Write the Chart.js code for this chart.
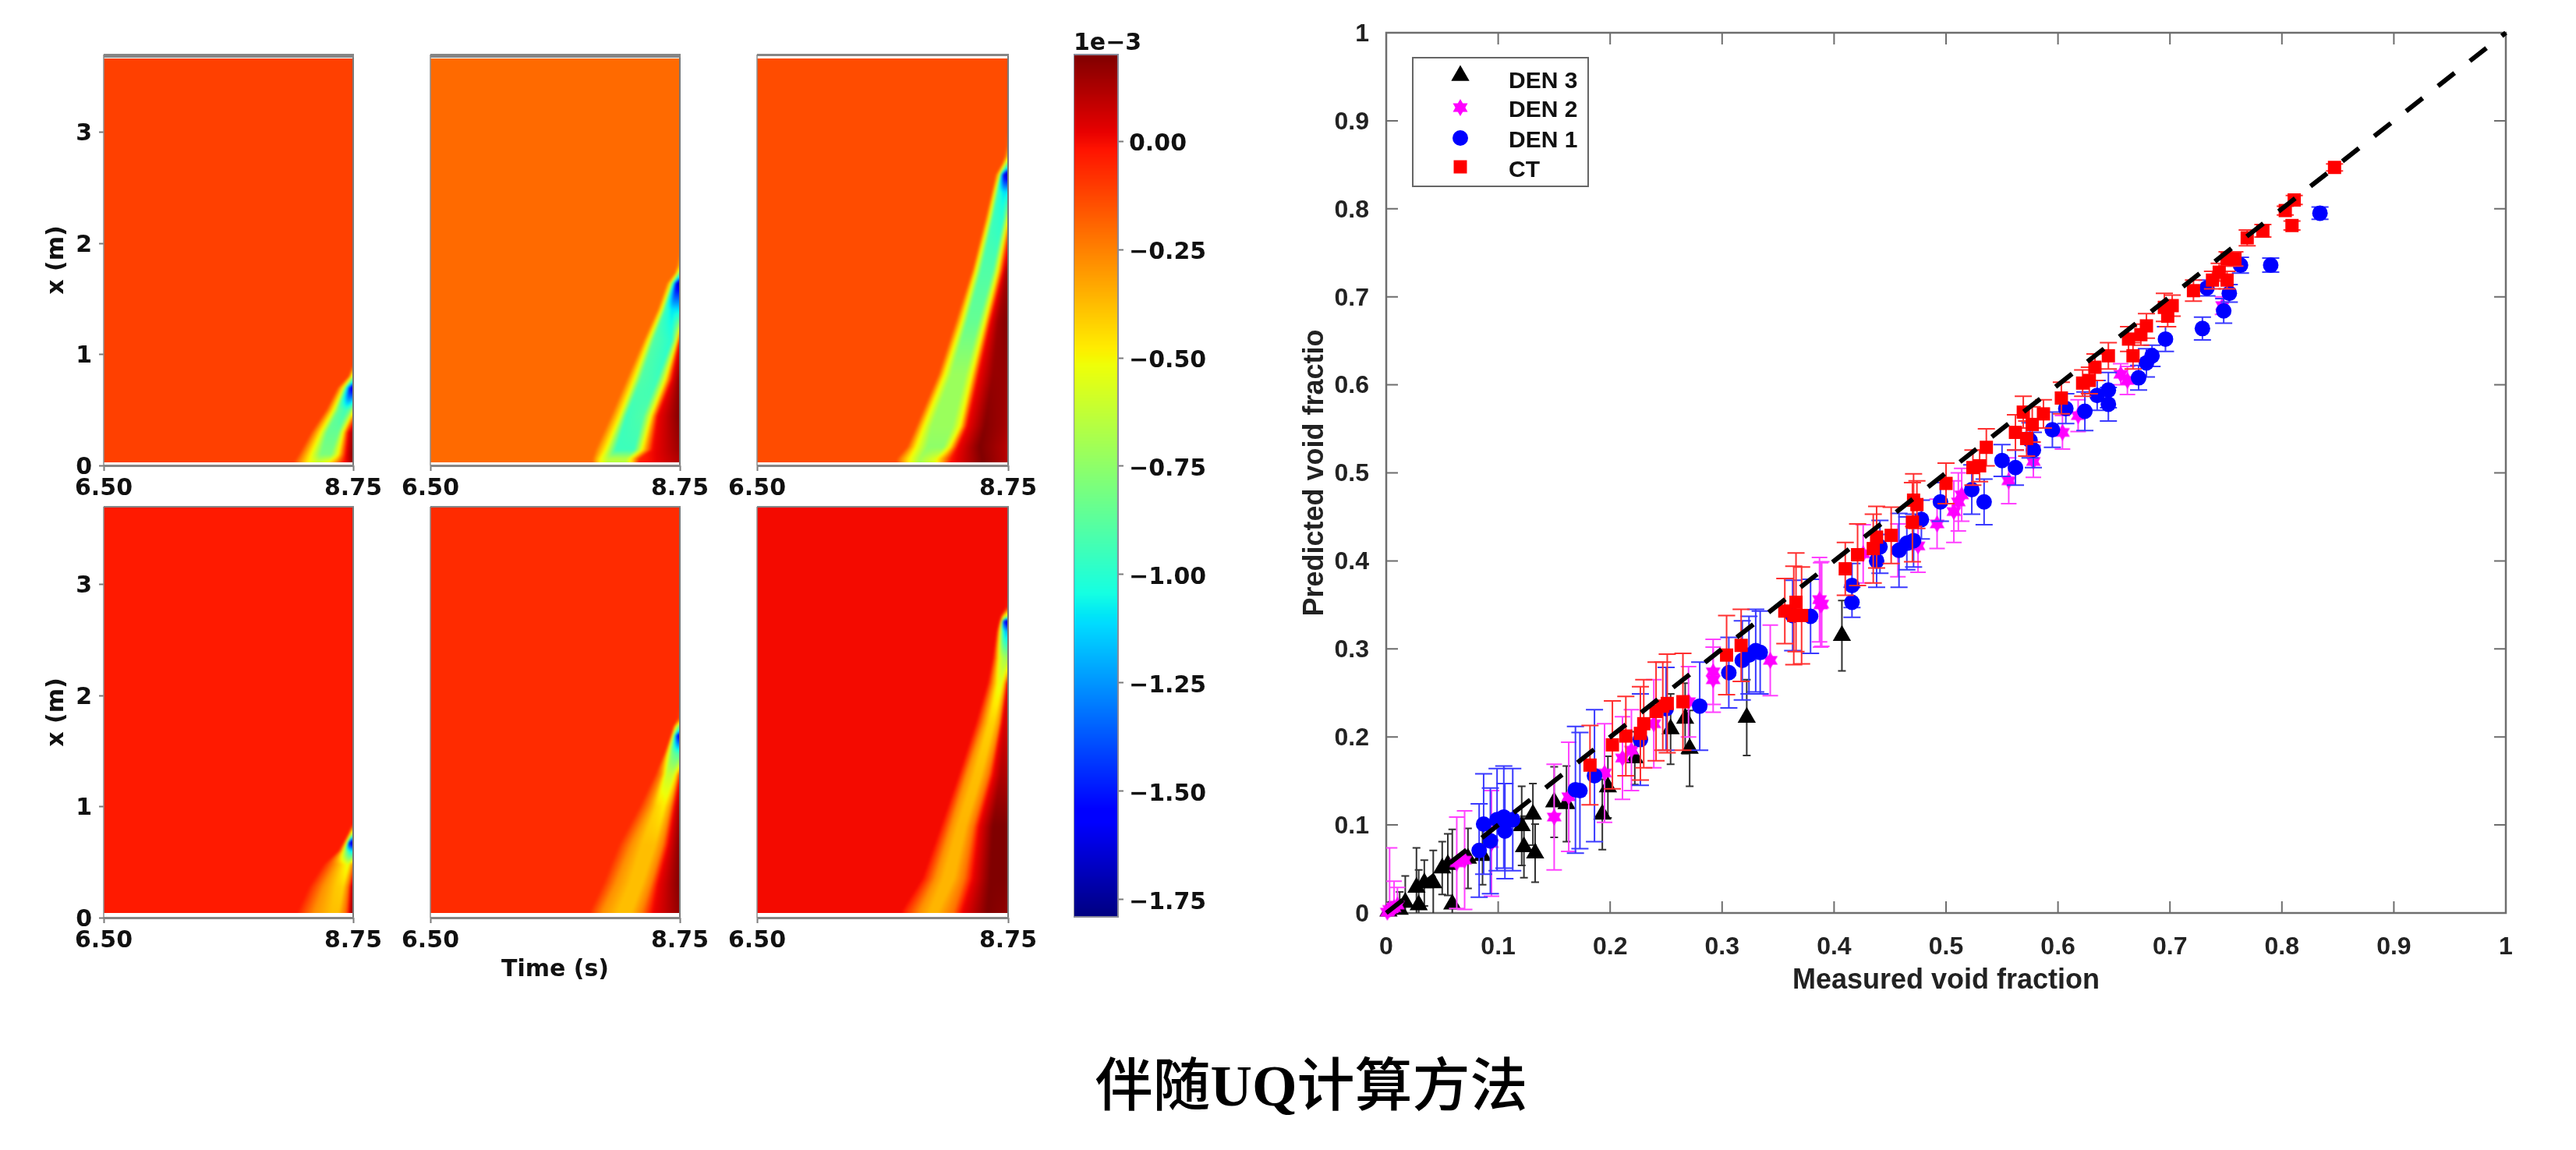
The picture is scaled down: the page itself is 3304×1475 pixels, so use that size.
<!DOCTYPE html>
<html>
<head>
<meta charset="utf-8">
<title>伴随UQ计算方法</title>
<script src="https://cdn.jsdelivr.net/npm/chart.js@4/dist/chart.umd.js"></script>
<style>
  html, body { margin: 0; padding: 0; background: #fff; overflow: hidden; }
  #page { position: relative; width: 3304px; height: 1475px; background: #fff; }
  #page canvas { position: absolute; }
  #caption { position: absolute; left: 1282px; width: 800px; top: 1340px; text-align: center; font-size: 74px; line-height: 92px; color: #000;
             font-family: "Noto Sans CJK SC"; font-weight: 500; white-space: nowrap; }
  #caption b { font-family: "Liberation Serif"; font-weight: bold; }
</style>
</head>
<body>
<div id="page"><div id="caption">伴随<b>UQ</b>计算方法</div></div>
<script>
// heat panels: for each height (m) a row of times (s) and values (1e-3) read along that height
const timeTicks = [6.5, 8.75];
const heightTicks = [0, 1, 2, 3];
const barTicks = [0, -0.25, -0.5, -0.75, -1, -1.25, -1.5, -1.75];
const scatterTicks = [0, 0.1, 0.2, 0.3, 0.4, 0.5, 0.6, 0.7, 0.8, 0.9, 1];

const p1Rows = [0.03, 0.1, 0.3, 0.5, 0.7, 0.8, 0.9, 1.0];
const p1Times = [
  [8.212, 8.347, 8.436, 8.526, 8.593, 8.66, 8.741],
  [8.257, 8.369, 8.459, 8.548, 8.616, 8.683, 8.75],
  [8.369, 8.459, 8.517, 8.616, 8.66, 8.705, 8.75],
  [8.504, 8.571, 8.616, 8.683, 8.719, 8.759, 8.795],
  [8.607, 8.66, 8.696, 8.728, 8.759, 8.795, 8.84],
  [8.705, 8.732, 8.759, 8.8, 8.85, 8.9, 8.95],
  [8.74, 8.76, 8.8, 8.82, 8.85, 8.9, 8.95],
  [8.74, 8.76, 8.8, 8.82, 8.85, 8.9, 8.95]
];
const p1Vals = [
  [-0.113, -0.5, -0.6, -0.5, -0.3, -0.05, 0.15],
  [-0.113, -0.5, -0.8, -0.8, -0.5, 0, 0.2],
  [-0.113, -0.5, -0.85, -0.85, -0.5, 0, 0.15],
  [-0.113, -0.5, -0.85, -0.95, -0.85, -0.5, 0],
  [-0.113, -0.5, -1.1, -1.6, -1.65, -1.6, -1.6],
  [-0.113, -0.5, -0.8, -0.8, -0.8, -0.8, -0.8],
  [-0.113, -0.25, -0.3, -0.3, -0.3, -0.3, -0.3],
  [-0.113, -0.113, -0.113, -0.113, -0.113, -0.113, -0.113]
];

const p2Rows = [0.06, 0.14, 0.446, 0.775, 1.125, 1.405, 1.64, 1.73, 1.8, 1.9, 2.0];
const p2Times = [
  [7.962, 8.033, 8.103, 8.267, 8.326, 8.384, 8.75],
  [7.986, 8.08, 8.173, 8.337, 8.408, 8.502, 8.75],
  [8.126, 8.209, 8.267, 8.42, 8.49, 8.548, 8.75],
  [8.267, 8.337, 8.396, 8.548, 8.619, 8.677, 8.75],
  [8.42, 8.466, 8.513, 8.677, 8.724, 8.748, 8.771],
  [8.548, 8.584, 8.619, 8.677, 8.748, 8.783, 8.806],
  [8.63, 8.666, 8.696, 8.724, 8.759, 8.783, 8.806],
  [8.701, 8.724, 8.748, 8.783, 8.8, 8.85, 8.9],
  [8.724, 8.755, 8.78, 8.8, 8.85, 8.9, 8.95],
  [8.74, 8.76, 8.78, 8.8, 8.85, 8.9, 8.95],
  [8.74, 8.76, 8.78, 8.8, 8.85, 8.9, 8.95]
];
const p2Vals = [
  [-0.202, -0.5, -0.65, -0.65, -0.4, -0.05, 0.12],
  [-0.202, -0.5, -0.95, -0.95, -0.5, 0, 0.15],
  [-0.202, -0.5, -0.95, -0.9, -0.5, 0, 0.2],
  [-0.202, -0.5, -0.9, -0.95, -0.5, 0, 0.2],
  [-0.202, -0.5, -0.9, -1.0, -0.5, 0, 0.1],
  [-0.202, -0.5, -0.95, -1.1, -1.1, -0.6, -0.6],
  [-0.202, -0.5, -1.1, -1.65, -1.7, -1.7, -1.7],
  [-0.202, -0.5, -0.9, -1, -1, -1, -1],
  [-0.202, -0.45, -0.5, -0.5, -0.5, -0.5, -0.5],
  [-0.202, -0.3, -0.3, -0.3, -0.3, -0.3, -0.3],
  [-0.202, -0.202, -0.202, -0.202, -0.202, -0.202, -0.202]
];

const p3Rows = [0.06, 0.166, 0.353, 0.82, 1.29, 1.755, 2.22, 2.46, 2.62, 2.715, 2.785, 2.88, 3.0];
const p3Times = [
  [7.75, 7.867, 7.96, 8.1, 8.17, 8.24, 8.517, 8.75],
  [7.844, 7.925, 8.03, 8.17, 8.228, 8.298, 8.496, 8.75],
  [7.925, 7.995, 8.065, 8.251, 8.321, 8.38, 8.543, 8.75],
  [8.123, 8.181, 8.24, 8.368, 8.426, 8.484, 8.613, 8.75],
  [8.275, 8.333, 8.38, 8.484, 8.543, 8.589, 8.659, 8.75],
  [8.426, 8.461, 8.508, 8.613, 8.659, 8.706, 8.729, 8.75],
  [8.543, 8.578, 8.613, 8.706, 8.748, 8.776, 8.8, 8.82],
  [8.601, 8.629, 8.659, 8.706, 8.776, 8.8, 8.82, 8.85],
  [8.636, 8.671, 8.689, 8.717, 8.752, 8.776, 8.8, 8.82],
  [8.694, 8.717, 8.748, 8.78, 8.8, 8.82, 8.85, 8.9],
  [8.717, 8.752, 8.78, 8.8, 8.82, 8.85, 8.9, 8.95],
  [8.73, 8.76, 8.78, 8.8, 8.82, 8.85, 8.9, 8.95],
  [8.73, 8.76, 8.78, 8.8, 8.82, 8.85, 8.9, 8.95]
];
const p3Vals = [
  [-0.14, -0.5, -0.7, -0.55, -0.3, -0.02, 0.2, 0.1],
  [-0.14, -0.5, -0.75, -0.75, -0.5, 0, 0.2, 0.1],
  [-0.14, -0.5, -0.72, -0.72, -0.5, 0, 0.19, 0.13],
  [-0.14, -0.5, -0.72, -0.72, -0.5, 0, 0.16, 0.16],
  [-0.14, -0.5, -0.85, -0.85, -0.5, 0, 0.15, 0.2],
  [-0.14, -0.5, -0.9, -0.9, -0.5, 0, 0.1, 0.18],
  [-0.14, -0.5, -0.95, -1.0, -0.5, -0.1, -0.1, -0.1],
  [-0.14, -0.5, -0.95, -1.1, -1.1, -1.1, -1.1, -1.1],
  [-0.14, -0.5, -1.1, -1.65, -1.7, -1.7, -1.7, -1.7],
  [-0.14, -0.5, -0.9, -0.9, -0.9, -0.9, -0.9, -0.9],
  [-0.14, -0.45, -0.45, -0.45, -0.45, -0.45, -0.45, -0.45],
  [-0.14, -0.25, -0.25, -0.25, -0.25, -0.25, -0.25, -0.25],
  [-0.14, -0.14, -0.14, -0.14, -0.14, -0.14, -0.14, -0.14]
];

const p4Rows = [0.03, 0.275, 0.48, 0.6, 0.675, 0.76, 0.85, 0.9];
const p4Times = [
  [8.235, 8.392, 8.548, 8.616, 8.683, 8.719, 8.75],
  [8.347, 8.481, 8.593, 8.66, 8.705, 8.732, 8.759],
  [8.481, 8.593, 8.66, 8.705, 8.741, 8.777, 8.813],
  [8.616, 8.66, 8.696, 8.728, 8.759, 8.795, 8.83],
  [8.66, 8.692, 8.719, 8.75, 8.777, 8.804, 8.83],
  [8.705, 8.728, 8.759, 8.8, 8.85, 8.9, 8.95],
  [8.74, 8.76, 8.78, 8.8, 8.85, 8.9, 8.95],
  [8.74, 8.76, 8.78, 8.8, 8.85, 8.9, 8.95]
];
const p4Vals = [
  [-0.033, -0.28, -0.38, -0.38, -0.2, 0.05, 0.2],
  [-0.033, -0.28, -0.4, -0.42, -0.22, 0.05, 0.2],
  [-0.033, -0.3, -0.45, -0.55, -0.3, 0, 0.1],
  [-0.033, -0.5, -0.9, -1.1, -1.1, -1.1, -1.1],
  [-0.033, -0.6, -1.65, -1.7, -1.7, -1.7, -1.7],
  [-0.033, -0.5, -0.7, -0.7, -0.7, -0.7, -0.7],
  [-0.033, -0.1, -0.1, -0.1, -0.1, -0.1, -0.1],
  [-0.033, -0.033, -0.033, -0.033, -0.033, -0.033, -0.033]
];

const p5Rows = [0.06, 0.306, 0.657, 1.0, 1.29, 1.476, 1.64, 1.72, 1.8, 1.9];
const p5Times = [
  [7.939, 8.056, 8.197, 8.314, 8.408, 8.502, 8.75],
  [8.056, 8.173, 8.302, 8.408, 8.49, 8.548, 8.75],
  [8.197, 8.314, 8.408, 8.525, 8.595, 8.642, 8.75],
  [8.384, 8.478, 8.537, 8.607, 8.666, 8.701, 8.75],
  [8.525, 8.584, 8.63, 8.689, 8.724, 8.755, 8.783],
  [8.607, 8.642, 8.677, 8.724, 8.759, 8.783, 8.806],
  [8.666, 8.684, 8.708, 8.731, 8.759, 8.783, 8.806],
  [8.689, 8.712, 8.748, 8.78, 8.8, 8.85, 8.9],
  [8.73, 8.76, 8.78, 8.8, 8.85, 8.9, 8.95],
  [8.73, 8.76, 8.78, 8.8, 8.85, 8.9, 8.95]
];
const p5Vals = [
  [-0.069, -0.28, -0.38, -0.38, -0.25, 0, 0.17],
  [-0.069, -0.28, -0.38, -0.38, -0.25, 0, 0.2],
  [-0.069, -0.28, -0.38, -0.38, -0.25, 0, 0.2],
  [-0.069, -0.28, -0.42, -0.48, -0.28, 0, 0.15],
  [-0.069, -0.28, -0.62, -0.62, -0.4, 0, 0.1],
  [-0.069, -0.5, -0.8, -0.9, -0.9, -0.9, -0.9],
  [-0.069, -0.5, -1.1, -1.6, -1.65, -1.65, -1.65],
  [-0.069, -0.5, -0.9, -0.9, -0.9, -0.9, -0.9],
  [-0.069, -0.2, -0.2, -0.2, -0.2, -0.2, -0.2],
  [-0.069, -0.069, -0.069, -0.069, -0.069, -0.069, -0.069]
];

const p6Rows = [0.06, 0.353, 0.82, 1.29, 1.755, 2.11, 2.34, 2.58, 2.67, 2.715, 2.8, 2.9];
const p6Times = [
  [7.797, 7.96, 8.053, 8.123, 8.263, 8.333, 8.566, 8.75],
  [7.983, 8.1, 8.17, 8.263, 8.356, 8.426, 8.589, 8.75],
  [8.147, 8.24, 8.298, 8.368, 8.438, 8.484, 8.613, 8.75],
  [8.31, 8.38, 8.449, 8.508, 8.578, 8.613, 8.682, 8.75],
  [8.461, 8.531, 8.578, 8.624, 8.671, 8.694, 8.717, 8.75],
  [8.566, 8.613, 8.659, 8.694, 8.724, 8.741, 8.764, 8.787],
  [8.613, 8.647, 8.678, 8.717, 8.752, 8.776, 8.8, 8.82],
  [8.647, 8.678, 8.701, 8.729, 8.752, 8.776, 8.8, 8.82],
  [8.671, 8.694, 8.71, 8.741, 8.76, 8.78, 8.8, 8.82],
  [8.682, 8.713, 8.748, 8.78, 8.8, 8.82, 8.85, 8.9],
  [8.73, 8.76, 8.78, 8.8, 8.82, 8.85, 8.9, 8.95],
  [8.73, 8.76, 8.78, 8.8, 8.82, 8.85, 8.9, 8.95]
];
const p6Vals = [
  [0, -0.28, -0.36, -0.36, -0.22, 0, 0.2, 0.17],
  [0, -0.28, -0.36, -0.36, -0.22, 0, 0.2, 0.2],
  [0, -0.28, -0.36, -0.36, -0.22, 0, 0.2, 0.2],
  [0, -0.28, -0.38, -0.38, -0.22, 0, 0.12, 0.12],
  [0, -0.28, -0.42, -0.42, -0.28, 0, 0.05, 0.05],
  [0, -0.28, -0.52, -0.55, -0.3, 0, 0.05, 0.05],
  [0, -0.3, -0.6, -0.7, -0.7, -0.7, -0.7, -0.7],
  [0, -0.5, -0.95, -1.2, -1.2, -1.2, -1.2, -1.2],
  [0, -0.6, -1.5, -1.7, -1.7, -1.7, -1.7, -1.7],
  [0, -0.5, -0.7, -0.7, -0.7, -0.7, -0.7, -0.7],
  [0, -0.1, -0.1, -0.1, -0.1, -0.1, -0.1, -0.1],
  [0, 0, 0, 0, 0, 0, 0, 0]
];

// scatter panel: measured, predicted, error bar half height
const den3X = [.002, .012, .017, .027, .029, .034, .042, .05, .055, .059, .073, .086, .121, .131, .123, .133, .15, .161, .198, .193, .222, .254, .267, .271, .322, .407];
const den3Y = [.002, .004, .012, .029, .009, .034, .034, .051, .055, .01, .062, .065, .099, .112, .075, .068, .126, .124, .143, .112, .176, .209, .221, .187, .222, .315];
const den3E = [.01, .02, .03, .045, .04, .026, .037, .03, .035, .085, .034, .033, .045, .035, .035, .033, .04, .043, .035, .04, .03, .04, .04, .043, .043, .04];

const den2X = [.001, .003, .007, .01, .063, .07, .094, .15, .163, .195, .211, .219, .239, .27, .292, .292, .343, .389, .387, .388, .426, .457, .475, .492, .507, .511, .514, .556, .578, .604, .618, .656, .662, .747];
const den2Y = [.001, .004, .006, .009, .057, .06, .079, .109, .132, .159, .176, .185, .215, .24, .274, .265, .287, .351, .356, .35, .408, .412, .417, .442, .456, .467, .475, .491, .513, .546, .565, .612, .605, .69];
const den2E = [.01, .07, .03, .02, .052, .056, .06, .06, .062, .056, .047, .046, .05, .04, .037, .037, .04, .048, .048, .048, .033, .03, .03, .028, .035, .033, .03, .026, .018, .019, .018, .012, .016, .01];

const den1X = [.083, .087, .093, .099, .105, .106, .113, .169, .173, .186, .227, .25, .28, .306, .318, .324, .33, .334, .363, .379, .416, .416, .438, .441, .458, .465, .471, .478, .495, .523, .534, .55, .562, .575, .578, .595, .607, .624, .635, .645, .645, .672, .679, .684, .696, .729, .733, .748, .753, .763, .79, .834];
const den1Y = [.071, .101, .082, .106, .109, .093, .106, .14, .139, .156, .197, .232, .235, .273, .287, .293, .298, .296, .338, .337, .353, .372, .4, .416, .412, .42, .423, .447, .467, .481, .467, .514, .506, .537, .526, .549, .573, .57, .588, .594, .578, .608, .625, .633, .652, .664, .71, .684, .704, .736, .736, .795];
const den1E = [.053, .057, .06, .058, .058, .054, .058, .072, .066, .075, .052, .047, .05, .04, .045, .044, .047, .047, .04, .042, .017, .025, .03, .03, .042, .03, .03, .022, .022, .028, .026, .018, .02, .02, .02, .02, .017, .022, .017, .02, .019, .014, .016, .012, .014, .013, .009, .014, .01, .009, .008, .007];

const ctX = [.182, .202, .214, .227, .23, .241, .247, .251, .265, .304, .317, .356, .366, .364, .371, .41, .421, .435, .438, .451, .47, .471, .474, .5, .524, .53, .536, .562, .569, .577, .572, .587, .603, .622, .628, .633, .645, .663, .667, .674, .679, .698, .695, .702, .721, .738, .744, .751, .751, .758, .769, .783, .803, .809, .811, .847];
const ctY = [.168, .191, .201, .204, .215, .229, .235, .238, .24, .293, .304, .343, .353, .338, .338, .391, .407, .414, .427, .429, .444, .469, .464, .488, .506, .508, .529, .546, .569, .555, .539, .567, .585, .602, .605, .62, .633, .652, .633, .657, .667, .678, .688, .69, .707, .719, .728, .719, .743, .743, .767, .775, .798, .781, .81, .847];
const ctE = [.045, .05, .045, .053, .05, .056, .05, .056, .055, .045, .041, .037, .056, .056, .055, .03, .035, .039, .035, .032, .045, .03, .027, .023, .02, .018, .021, .02, .018, .02, .02, .016, .018, .015, .015, .015, .015, .014, .015, .012, .014, .012, .016, .012, .012, .01, .01, .01, .008, .008, .009, .007, .005, .005, .005, .004];

const identityX = [0, 1];
const identityY = [0, 1];

// matplotlib style jet, position then red, green, blue pieces
const jetR = [[0, 0], [0.35, 0], [0.66, 1], [0.89, 1], [1, 0.5]];
const jetG = [[0, 0], [0.125, 0], [0.375, 1], [0.64, 1], [0.91, 0], [1, 0]];
const jetB = [[0, 0.5], [0.11, 1], [0.34, 1], [0.65, 0], [1, 0]];
const barMin = -1.79, barMax = 0.2;

const heatFont = { family: "'DejaVu Sans'", weight: 'bold', size: 30 };
const plotFont = { family: "'Liberation Sans'", weight: 'bold', size: 32 };
const axisGrey = '#7a7a7a';

function piece(tbl, f) {
  for (let i = 1; i < tbl.length; i++) {
    if (f <= tbl[i][0]) {
      const a = tbl[i - 1], b = tbl[i];
      return a[1] + (b[1] - a[1]) * (f - a[0]) / (b[0] - a[0]);
    }
  }
  return tbl[tbl.length - 1][1];
}

function jet(v) {
  const f = Math.min(1, Math.max(0, (v - barMin) / (barMax - barMin)));
  return [piece(jetR, f) * 255, piece(jetG, f) * 255, piece(jetB, f) * 255];
}

function newCanvas(left, top, w, h) {
  const c = document.createElement('canvas');
  c.width = w;
  c.height = h;
  c.style.left = left + 'px';
  c.style.top = top + 'px';
  c.style.width = w + 'px';
  c.style.height = h + 'px';
  document.getElementById('page').appendChild(c);
  return c;
}

// value at time t and height x, straight from the rows held by the chart datasets
function heatAt(datasets, t, x) {
  const first = datasets[0].data;
  let r = 0;
  while (r < first.length - 1 && x >= first[r + 1].y) r++;
  let k = 0;
  if (r < first.length - 1 && x > first[r].y) k = (x - first[r].y) / (first[r + 1].y - first[r].y);
  let prevT = null, prevV = null;
  for (let s = 0; s < datasets.length; s++) {
    const a = datasets[s].data[r];
    const b = datasets[s].data[Math.min(r + 1, first.length - 1)];
    const st = a.x + (b.x - a.x) * k;
    const sv = a.v + (b.v - a.v) * k;
    if (t <= st) {
      if (prevT === null) return sv;
      return prevV + (sv - prevV) * (t - prevT) / (st - prevT);
    }
    prevT = st;
    prevV = sv;
  }
  return prevV;
}

const heatPlugin = {
  id: 'heat',
  beforeDatasetsDraw(chart, args, opts) {
    const area = chart.chartArea, xs = chart.scales.x, ys = chart.scales.y, ctx = chart.ctx;
    const top = Math.round(ys.getPixelForValue(opts.fromTo[1]));
    const bottom = Math.round(ys.getPixelForValue(opts.fromTo[0]));
    const w = Math.round(area.right - area.left), h = bottom - top;
    const off = document.createElement('canvas');
    off.width = w;
    off.height = h;
    const octx = off.getContext('2d');
    const img = octx.createImageData(w, h);
    for (let j = 0; j < h; j++) {
      const x = ys.getValueForPixel(top + j + 0.5);
      for (let i = 0; i < w; i++) {
        const t = xs.getValueForPixel(area.left + i + 0.5);
        const c = jet(heatAt(chart.data.datasets, t, x));
        const p = (j * w + i) * 4;
        img.data[p] = c[0];
        img.data[p + 1] = c[1];
        img.data[p + 2] = c[2];
        img.data[p + 3] = 255;
      }
    }
    octx.putImageData(img, 0, 0);
    // the source picture is soft, a sharp copy under a blurred one keeps the edges filled
    ctx.save();
    ctx.beginPath();
    ctx.rect(area.left, top, w, h);
    ctx.clip();
    ctx.drawImage(off, area.left, top);
    ctx.filter = 'blur(1.6px)';
    ctx.drawImage(off, area.left, top);
    ctx.restore();
  },
  afterDatasetsDraw(chart, args, opts) {
    const a = chart.chartArea, ctx = chart.ctx;
    ctx.save();
    ctx.strokeStyle = '#8c8c8c';
    ctx.lineWidth = 1.5;
    ctx.beginPath();
    ctx.moveTo(a.left, a.top);
    ctx.lineTo(a.left, a.bottom);
    ctx.stroke();
    ctx.lineWidth = 2;
    ctx.strokeStyle = axisGrey;
    ctx.beginPath();
    ctx.moveTo(a.right, a.top);
    ctx.lineTo(a.right, a.bottom);
    ctx.stroke();
    ctx.fillStyle = '#868686';
    ctx.fillRect(a.left, a.top - 1, a.right - a.left + 1, opts.topBand);
    ctx.fillRect(a.left, a.bottom - 1, a.right - a.left + 1, 3);
    ctx.restore();
  }
};

const barPlugin = {
  id: 'colourBar',
  beforeDatasetsDraw(chart) {
    const a = chart.chartArea, ys = chart.scales.y, ctx = chart.ctx;
    for (let p = Math.round(a.top); p < a.bottom; p++) {
      const c = jet(ys.getValueForPixel(p + 0.5));
      ctx.fillStyle = 'rgb(' + c.map(Math.round).join(',') + ')';
      ctx.fillRect(a.left, p, a.right - a.left, 1);
    }
    ctx.strokeStyle = '#8a8a9a';
    ctx.lineWidth = 2;
    ctx.strokeRect(a.left, a.top, a.right - a.left, a.bottom - a.top);
  }
};

// one heat panel, plot box given in page pixels
function heatPanel(id, box, rows, times, vals, cfg) {
  const left = 100, right = 50, top = 40;
  const bottom = cfg.timeTitle ? 90 : 50;
  const c = newCanvas(box.x - left, box.y - top, box.w + left + right, box.h + top + bottom);
  const datasets = times[0].map((_, s) => ({
    data: rows.map((x, r) => ({ x: times[r][s], y: x, v: vals[r][s] })),
    pointRadius: 0,
    showLine: false
  }));
  return new Chart(c, {
    type: 'scatter',
    data: { datasets: datasets },
    plugins: [heatPlugin],
    options: {
      responsive: false,
      animation: false,
      events: [],
      layout: { autoPadding: false, padding: { top: top, right: right, left: 0, bottom: 0 } },
      plugins: {
        legend: { display: false },
        tooltip: { enabled: false },
        heat: { fromTo: cfg.fromTo, topBand: cfg.topBand }
      },
      scales: {
        x: {
          type: 'linear', min: 6.5, max: 8.75,
          afterFit(s) { s.height = bottom; },
          afterBuildTicks(s) { s.ticks = timeTicks.map(v => ({ value: v })); },
          border: { display: false },
          grid: { drawOnChartArea: false, tickLength: 7, tickColor: axisGrey, tickWidth: 2 },
          ticks: { font: heatFont, color: '#111', padding: 5, maxRotation: 0, autoSkip: false, callback: v => v.toFixed(2) },
          title: { display: !!cfg.timeTitle, text: 'Time (s)', font: heatFont, color: '#111', padding: { top: 0, bottom: 5 } }
        },
        y: {
          type: 'linear', min: 0, max: 3.7,
          afterFit(s) { s.width = left; },
          afterBuildTicks(s) { s.ticks = heightTicks.map(v => ({ value: v })); },
          border: { display: false },
          grid: { drawOnChartArea: false, drawTicks: !!cfg.heightAxis, tickLength: 6, tickColor: axisGrey, tickWidth: 2 },
          ticks: { display: !!cfg.heightAxis, font: heatFont, color: '#111', padding: 9, labelOffset: 3, callback: v => String(v) },
          title: { display: !!cfg.heightAxis, text: 'x (m)', font: heatFont, color: '#111', padding: { top: 22, bottom: 0 } }
        }
      }
    }
  });
}

const topRange = [0.025, 3.665];
const lowRange = [0.045, 3.695];
heatPanel('p1', { x: 133, y: 70, w: 320, h: 527 }, p1Rows, p1Times, p1Vals, { fromTo: topRange, topBand: 5, heightAxis: true });
heatPanel('p2', { x: 552, y: 70, w: 320, h: 527 }, p2Rows, p2Times, p2Vals, { fromTo: topRange, topBand: 5 });
heatPanel('p3', { x: 971, y: 70, w: 322, h: 527 }, p3Rows, p3Times, p3Vals, { fromTo: topRange, topBand: 3 });
heatPanel('p4', { x: 133, y: 650, w: 320, h: 527 }, p4Rows, p4Times, p4Vals, { fromTo: lowRange, topBand: 2, heightAxis: true });
heatPanel('p5', { x: 552, y: 650, w: 320, h: 527 }, p5Rows, p5Times, p5Vals, { fromTo: lowRange, topBand: 2, timeTitle: true });
heatPanel('p6', { x: 971, y: 650, w: 322, h: 527 }, p6Rows, p6Times, p6Vals, { fromTo: lowRange, topBand: 2 });

// colour bar
new Chart(newCanvas(1377, 30, 57 + 130, 1106 + 40 + 40), {
  type: 'scatter',
  data: { datasets: [{ data: [], pointRadius: 0 }] },
  plugins: [barPlugin],
  options: {
    responsive: false,
    animation: false,
    events: [],
    layout: { autoPadding: false, padding: { top: 0, left: 0, right: 0, bottom: 40 } },
    plugins: {
      legend: { display: false },
      tooltip: { enabled: false },
      title: {
        display: true, text: '1e\u22123', align: 'start', color: '#111',
        font: Object.assign({}, heatFont, { lineHeight: 0.8 }),
        padding: { top: 14, bottom: 2 }
      }
    },
    scales: {
      x: { display: false, min: 0, max: 1 },
      y: {
        type: 'linear', position: 'right', min: barMin, max: barMax,
        afterFit(s) { s.width = 130; },
        afterBuildTicks(s) { s.ticks = barTicks.map(v => ({ value: v })); },
        border: { display: false },
        grid: { drawOnChartArea: false, tickLength: 7, tickColor: axisGrey, tickWidth: 2 },
        ticks: { font: heatFont, color: '#111', padding: 7, labelOffset: 4, crossAlign: 'near', callback: v => v.toFixed(2).replace('-', '\u2212') }
      }
    }
  }
});

// six pointed marker for DEN 2, Chart.js has no such style
function hexagram(size, colour) {
  const c = document.createElement('canvas');
  c.width = size;
  c.height = size;
  const g = c.getContext('2d'), r = size / 2;
  g.fillStyle = colour;
  [0, Math.PI].forEach(rot => {
    g.beginPath();
    for (let i = 0; i < 3; i++) {
      const a = rot + i * 2 * Math.PI / 3;
      g.lineTo(r + Math.sin(a) * r, r - Math.cos(a) * r);
    }
    g.closePath();
    g.fill();
  });
  return c;
}

function points(xs, ys) {
  return xs.map((x, i) => ({ x: x, y: ys[i] }));
}

const errorBarPlugin = {
  id: 'errorBars',
  beforeDatasetDraw(chart, args) {
    const ds = chart.data.datasets[args.index];
    if (!ds.errors) return;
    const xs = chart.scales.x, ys = chart.scales.y, ctx = chart.ctx, a = chart.chartArea;
    ctx.save();
    ctx.beginPath();
    ctx.rect(a.left, a.top, a.right - a.left, a.bottom - a.top);
    ctx.clip();
    ctx.strokeStyle = ds.errorColour;
    ctx.lineWidth = 2;
    ds.data.forEach((p, i) => {
      const px = xs.getPixelForValue(p.x);
      const hi = ys.getPixelForValue(p.y + ds.errors[i]);
      const lo = ys.getPixelForValue(p.y - ds.errors[i]);
      ctx.beginPath();
      ctx.moveTo(px, hi);
      ctx.lineTo(px, lo);
      ctx.moveTo(px - ds.capHalf, hi);
      ctx.lineTo(px + ds.capHalf, hi);
      ctx.moveTo(px - ds.capHalf, lo);
      ctx.lineTo(px + ds.capHalf, lo);
      ctx.stroke();
    });
    ctx.restore();
  }
};

// box axes with inward ticks on all four sides, plus the legend box
const framePlugin = {
  id: 'frame',
  beforeDatasetsDraw(chart) {
    const a = chart.chartArea, xs = chart.scales.x, ys = chart.scales.y, ctx = chart.ctx;
    const len = 15;
    ctx.save();
    ctx.strokeStyle = '#6e6e6e';
    ctx.lineWidth = 2.5;
    ctx.strokeRect(a.left, a.top, a.right - a.left, a.bottom - a.top);
    ctx.lineWidth = 2;
    ctx.beginPath();
    scatterTicks.forEach(v => {
      const px = xs.getPixelForValue(v), py = ys.getPixelForValue(v);
      ctx.moveTo(px, a.bottom);
      ctx.lineTo(px, a.bottom - len);
      ctx.moveTo(px, a.top);
      ctx.lineTo(px, a.top + len);
      ctx.moveTo(a.left, py);
      ctx.lineTo(a.left + len, py);
      ctx.moveTo(a.right, py);
      ctx.lineTo(a.right - len, py);
    });
    ctx.stroke();
    ctx.restore();
  },
  afterDraw(chart) {
    const ctx = chart.ctx, a = chart.chartArea;
    const box = { x: a.left + 34, y: a.top + 32, w: 225, h: 165 };
    const rowY = [23, 64, 103, 140];
    const textY = [31, 68, 107, 145];
    ctx.save();
    ctx.fillStyle = '#fff';
    ctx.fillRect(box.x, box.y, box.w, box.h);
    ctx.strokeStyle = '#666';
    ctx.lineWidth = 2;
    ctx.strokeRect(box.x, box.y, box.w, box.h);
    ctx.font = "bold 30px 'Liberation Sans'";
    ctx.textBaseline = 'middle';
    const series = chart.data.datasets.filter(d => d.errors).slice().reverse();
    series.forEach((d, i) => {
      ctx.fillStyle = d.pointBackgroundColor;
      Chart.helpers.drawPoint(ctx, { pointStyle: d.pointStyle, radius: d.pointRadius, rotation: 0, borderWidth: 0 }, box.x + 61, box.y + rowY[i]);
      ctx.fillStyle = '#111';
      ctx.fillText(d.label, box.x + 123, box.y + textY[i]);
    });
    ctx.restore();
  }
};

new Chart(newCanvas(1640, 2, 1640, 1318), {
  type: 'scatter',
  data: {
    datasets: [
      { label: 'identity', data: points(identityX, identityY), showLine: true, pointRadius: 0, borderColor: '#000', borderWidth: 6, borderDash: [27, 25], clip: false },
      { label: 'CT', data: points(ctX, ctY), errors: ctE, errorColour: '#ff3030', capHalf: 11, pointStyle: 'rect', pointRadius: 12, pointBackgroundColor: '#f00', pointBorderWidth: 0, clip: false },
      { label: 'DEN 1', data: points(den1X, den1Y), errors: den1E, errorColour: '#3a3aff', capHalf: 11, pointStyle: 'circle', pointRadius: 10, pointBackgroundColor: '#00f', pointBorderWidth: 0, clip: false },
      { label: 'DEN 2', data: points(den2X, den2Y), errors: den2E, errorColour: '#ff40ff', capHalf: 10, pointStyle: hexagram(22, '#f0f'), pointRadius: 11, pointBackgroundColor: '#f0f', pointBorderWidth: 0, clip: false },
      { label: 'DEN 3', data: points(den3X, den3Y), errors: den3E, errorColour: '#333', capHalf: 5, pointStyle: 'triangle', pointRadius: 13.5, pointBackgroundColor: '#000', pointBorderWidth: 0, clip: false }
    ]
  },
  plugins: [framePlugin, errorBarPlugin],
  options: {
    responsive: false,
    animation: false,
    events: [],
    layout: { autoPadding: false, padding: { top: 40, right: 66, left: 0, bottom: 29 } },
    plugins: { legend: { display: false }, tooltip: { enabled: false } },
    scales: {
      x: {
        type: 'linear', min: 0, max: 1,
        afterFit(s) { s.height = 120; },
        afterBuildTicks(s) { s.ticks = scatterTicks.map(v => ({ value: v })); },
        border: { display: false },
        grid: { display: false },
        ticks: { font: plotFont, color: '#222', padding: 17, maxRotation: 0, autoSkip: false, callback: v => String(v) },
        title: { display: true, text: 'Measured void fraction', font: { family: "'Liberation Sans'", weight: 'bold', size: 36 }, color: '#222', padding: { top: 0, bottom: 11 } }
      },
      y: {
        type: 'linear', min: 0, max: 1,
        afterFit(s) { s.width = 138; },
        afterBuildTicks(s) { s.ticks = scatterTicks.map(v => ({ value: v })); },
        border: { display: false },
        grid: { display: false },
        ticks: { font: plotFont, color: '#222', padding: 14, labelOffset: 2, autoSkip: false, callback: v => String(v) },
        title: { display: true, text: 'Predicted void fractio', font: { family: "'Liberation Sans'", weight: 'bold', size: 36 }, color: '#222', padding: { top: 25, bottom: 0 } }
      }
    }
  }
});
</script>
</body>
</html>
